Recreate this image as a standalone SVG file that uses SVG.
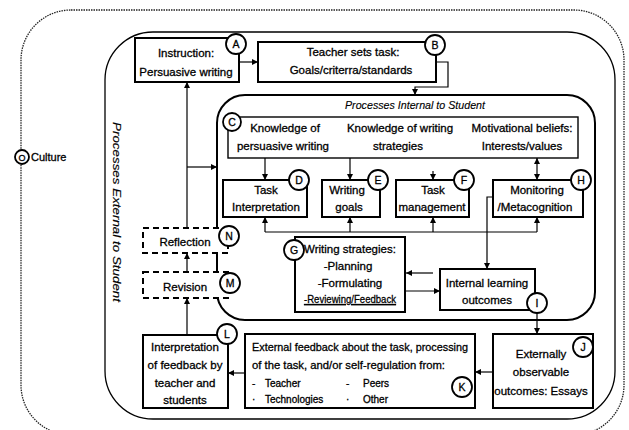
<svg xmlns="http://www.w3.org/2000/svg" width="629" height="430" viewBox="0 0 629 430">
<defs>
<marker id="ar" viewBox="0 0 8 8" refX="8" refY="4" markerWidth="6" markerHeight="6" markerUnits="userSpaceOnUse" orient="auto-start-reverse">
<path d="M0,0 L8,4 L0,8 Z" fill="#000"/>
</marker>
</defs>
<style>
.box{fill:#fff;stroke:#000;stroke-width:2}
.thin{fill:none;stroke:#000;stroke-width:1.4}
.dbox{fill:#fff;stroke:#000;stroke-width:2;stroke-dasharray:6,4}
.circ{fill:#fff;stroke:#000;stroke-width:1.8}
.t{font-family:"Liberation Sans",Arial,sans-serif;font-size:11.5px;fill:#000;stroke:#000;stroke-width:0.3;text-anchor:middle}
.l{text-anchor:start}
.s{font-size:10px}
.i{font-style:italic;stroke-width:0.15}
.lbl{font-family:"Liberation Sans",Arial,sans-serif;font-size:10.5px;fill:#000;stroke:#000;stroke-width:0.3;text-anchor:middle}
.con{fill:none;stroke:#000;stroke-width:1.2}
.arr{marker-end:url(#ar)}
</style>
<rect x="21" y="10" width="603" height="425" rx="50" fill="none" stroke="#222" stroke-width="1.3" stroke-dasharray="1.5,1"/>
<rect x="105" y="32" width="510" height="387" rx="48" fill="none" stroke="#000" stroke-width="1.3"/>
<rect x="217" y="95" width="378" height="225" rx="28" fill="none" stroke="#000" stroke-width="2"/>
<text class="t i" transform="translate(117,212) rotate(90)" x="0" y="4" textLength="180" lengthAdjust="spacingAndGlyphs">Processes External to Student</text>
<text class="t i" x="415" y="109" textLength="140" lengthAdjust="spacingAndGlyphs">Processes Internal to Student</text>
<g id="connectors">
<path class="con arr" d="M239,62 H258"/>
<path class="con arr" d="M436,62 H448 V87 H415 V95"/>
<path class="con arr" d="M187,228 V82"/>
<path class="con arr" d="M187,167 H217"/>
<path class="con arr" d="M187,272 V253"/>
<path class="con arr" d="M187,335 V298"/>
<path class="con arr" d="M245,373 H228"/>
<path class="con arr" d="M493,372 H475"/>
<path class="con arr" d="M537,313 V334"/>
<path class="con arr" d="M265,158 V180"/>
<path class="con arr" d="M350,158 V180"/>
<path class="con arr" d="M433,171 V180"/>
<path class="con arr" d="M537,158 V180" marker-start="url(#ar)"/>
<path class="con" d="M265,232 H537"/>
<path class="con arr" d="M265,232 V217"/>
<path class="con arr" d="M350,232 V217"/>
<path class="con arr" d="M433,232 V217"/>
<path class="con arr" d="M537,232 V217"/>
<path class="con arr" d="M493,197 H487 V269"/>
<path class="con arr" d="M433,273 H406"/>
<path class="con arr" d="M406,291 H440"/>
</g>
<g id="O">
<circle class="circ" cx="22" cy="157" r="7"/>
<text class="lbl" x="22" y="161" style="font-size:9px">O</text>
<text class="t l" x="31" y="161" style="font-size:11px">Culture</text>
</g>
<g id="A">
<rect class="box" x="135" y="38" width="104" height="44"/>
<text class="t" x="186" y="57">Instruction:</text>
<text class="t" x="186" y="76">Persuasive writing</text>
<circle class="circ" cx="236" cy="44" r="10"/>
<text class="lbl" x="236" y="48">A</text>
</g>
<g id="B">
<rect class="box" x="258" y="42" width="178" height="40"/>
<text class="t" x="353" y="56">Teacher sets task:</text>
<text class="t" x="351" y="74">Goals/criterra/standards</text>
<circle class="circ" cx="435" cy="45" r="10"/>
<text class="lbl" x="435" y="49">B</text>
</g>
<g id="C">
<rect class="thin" x="228" y="117" width="350" height="41"/>
<text class="t" x="285" y="132">Knowledge of</text>
<text class="t" x="283" y="150">persuasive writing</text>
<text class="t" x="400" y="132">Knowledge of writing</text>
<text class="t" x="398" y="150">strategies</text>
<text class="t" x="522" y="132">Motivational beliefs:</text>
<text class="t" x="522" y="150">Interests/values</text>
<circle class="circ" cx="232" cy="122" r="9"/>
<text class="lbl" x="232" y="126">C</text>
</g>
<g id="D">
<rect class="box" x="223" y="180" width="84" height="37"/>
<text class="t" x="266" y="194">Task</text>
<text class="t" x="266" y="211">Interpretation</text>
<circle class="circ" cx="299" cy="180" r="10"/>
<text class="lbl" x="299" y="184">D</text>
</g>
<g id="E">
<rect class="box" x="322" y="180" width="58" height="37"/>
<text class="t" x="347" y="194">Writing</text>
<text class="t" x="349" y="211">goals</text>
<circle class="circ" cx="378" cy="180" r="10"/>
<text class="lbl" x="378" y="184">E</text>
</g>
<g id="F">
<rect class="box" x="396" y="180" width="73" height="37"/>
<text class="t" x="433" y="194">Task</text>
<text class="t" x="432" y="211">management</text>
<circle class="circ" cx="464" cy="180" r="10"/>
<text class="lbl" x="464" y="184">F</text>
</g>
<g id="H">
<rect class="box" x="493" y="180" width="90" height="37"/>
<text class="t" x="537" y="194">Monitoring</text>
<text class="t" x="535" y="211">/Metacognition</text>
<circle class="circ" cx="581" cy="180" r="10"/>
<text class="lbl" x="581" y="184">H</text>
</g>
<g id="G">
<rect class="box" x="295" y="237" width="110" height="75"/>
<text class="t" x="350" y="253">Writing strategies:</text>
<text class="t" x="348" y="270">-Planning</text>
<text class="t" x="350" y="287">-Formulating</text>
<text class="t" x="350" y="303" text-decoration="underline" textLength="92" lengthAdjust="spacingAndGlyphs">-Reviewing/Feedback</text>
<circle class="circ" cx="294" cy="250" r="10"/>
<text class="lbl" x="294" y="254">G</text>
</g>
<g id="I">
<rect class="box" x="440" y="269" width="95" height="41"/>
<text class="t" x="487" y="287">Internal learning</text>
<text class="t" x="487" y="304">outcomes</text>
<circle class="circ" cx="537" cy="303" r="10"/>
<text class="lbl" x="537" y="307">I</text>
</g>
<g id="N">
<rect class="dbox" x="143" y="228" width="85" height="25"/>
<text class="t" x="185" y="246">Reflection</text>
<circle class="circ" cx="229" cy="236" r="10"/>
<text class="lbl" x="229" y="240">N</text>
</g>
<g id="M">
<rect class="dbox" x="143" y="272" width="85" height="26"/>
<text class="t" x="185" y="291">Revision</text>
<circle class="circ" cx="230" cy="283" r="10"/>
<text class="lbl" x="230" y="287">M</text>
</g>
<g id="L">
<rect class="box" x="143" y="335" width="85" height="73"/>
<text class="t" x="185" y="351">Interpretation</text>
<text class="t" x="185" y="369">of feedback by</text>
<text class="t" x="185" y="387">teacher and</text>
<text class="t" x="185" y="404">students</text>
<circle class="circ" cx="227" cy="334" r="10"/>
<text class="lbl" x="227" y="338">L</text>
</g>
<g id="K">
<rect class="box" x="245" y="334" width="230" height="74"/>
<text class="t l" x="252" y="351" textLength="216" lengthAdjust="spacingAndGlyphs">External feedback about the task, processing</text>
<text class="t l" x="252" y="369" textLength="193" lengthAdjust="spacingAndGlyphs">of the task, and/or self-regulation from:</text>
<text class="t l s" x="252" y="387">-</text>
<text class="t l s" x="265" y="387">Teacher</text>
<text class="t l s" x="346" y="387">-</text>
<text class="t l s" x="363" y="387">Peers</text>
<text class="t l s" x="252" y="403">·</text>
<text class="t l s" x="265" y="403">Technologies</text>
<text class="t l s" x="346" y="403">·</text>
<text class="t l s" x="363" y="403">Other</text>
<circle class="circ" cx="462" cy="387" r="10"/>
<text class="lbl" x="462" y="391">K</text>
</g>
<g id="J">
<rect class="box" x="493" y="334" width="100" height="74"/>
<text class="t" x="541" y="358">Externally</text>
<text class="t" x="541" y="376">observable</text>
<text class="t" x="541" y="395">outcomes: Essays</text>
<circle class="circ" cx="583" cy="347" r="10"/>
<text class="lbl" x="583" y="351">J</text>
</g>
</svg>
